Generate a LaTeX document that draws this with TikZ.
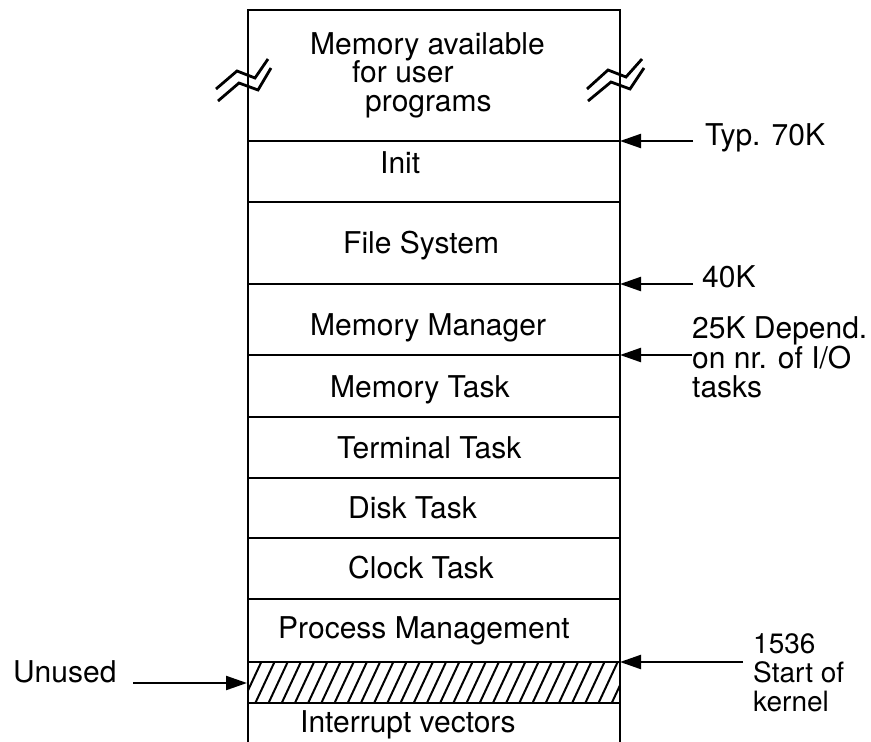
\documentclass[tikz,border=0pt]{standalone}
\usepackage{fontspec}
\setmainfont{TeX Gyre Heros}
\usetikzlibrary{arrows.meta}

\tikzset{
  wall/.style={line width=2.8pt, line cap=rect},
  divider/.style={line width=2.4pt},
  pointer/.style={line width=2.2pt, -{Triangle[length=21pt,width=14pt]}},
  lbl/.style={anchor=base west, inner sep=0pt, font=\fontsize{30}{34}\selectfont},
  sidelbl/.style={anchor=base west, inner sep=0pt, font=\fontsize{28}{32}\selectfont},
  breakmark/.style={line width=2.8pt, line join=miter},
  hatch/.style={line width=2pt},
}

\begin{document}
\begin{tikzpicture}[x=1pt, y=-1pt]
  % page frame
  \fill[white] (0,0) rectangle (871,742);
  \useasboundingbox (0,0) rectangle (871,742);

  % region boundaries on the walls
  \coordinate (b70)   at (620,141);
  \coordinate (b40)   at (620,284);
  \coordinate (b25)   at (620,355);
  \coordinate (bkern) at (620,662);
  \coordinate (bunus) at (247,683);

  % hatched (unused) band
  \begin{scope}
    \clip (248,662) rectangle (620,703);
    \foreach \i in {0,...,31} {
      \draw[hatch] ({228+13.2*\i},705) -- ({228+13.2*\i+21},660);
    }
  \end{scope}

  % outer walls of the memory column (open at the bottom)
  \draw[wall] (248,742) -- (248,10) -- (620,10) -- (620,742);

  % dividers between regions
  \foreach \yy in {141,202,284,355,417,478,538,599,662,703} {
    \draw[divider] (248,\yy) -- (620,\yy);
  }

  % break marks on both walls
  \draw[breakmark] (216,89) -- (237,71) -- (255,78) -- (268,59);
  \draw[breakmark] (218,101) -- (239,83) -- (258,90) -- (271,68);
  \draw[breakmark] (587,89) -- (608,70) -- (626,77) -- (642,59);
  \draw[breakmark] (588,101) -- (611,82) -- (630,89) -- (644,68);

  % region labels
  \node[lbl] (user1) at (310,54)  {Memory available};
  \node[lbl] (user2) at (352,82)  {for user};
  \node[lbl] (user3) at (365,111) {programs};
  \node[lbl] (init)  at (380,173) {Init};
  \node[lbl] (fs)    at (343,253) {File System};
  \node[lbl] (mm)    at (310,335) {Memory Manager};
  \node[lbl] (mt)    at (330,397) {Memory Task};
  \node[lbl] (tt)    at (337,458) {Terminal Task};
  \node[lbl] (dt)    at (348,518) {Disk Task};
  \node[lbl] (ct)    at (348,578) {Clock Task};
  \node[lbl] (pm)    at (278,638) {Process Management};
  \node[lbl] (iv)    at (300,732) {Interrupt vectors};

  % address labels
  \node[lbl] (l70)  at (705,145) {Typ. 70K};
  \node[lbl] (l40)  at (702,287) {40K};
  \node[lbl] (l25a) at (692,338) {25K Depend.};
  \node[lbl] (l25b) at (692,368) {on nr. of I/O};
  \node[lbl] (l25c) at (692,397) {tasks};
  \node[sidelbl] (lk1) at (753,653) {1536};
  \node[sidelbl] (lk2) at (753,682) {Start of};
  \node[sidelbl] (lk3) at (753,711) {kernel};
  \node[lbl] (lun)  at (13,682) {Unused};

  % arrow tails
  \coordinate (t70)   at (693,141);
  \coordinate (t40)   at (693,284);
  \coordinate (t25)   at (692,355);
  \coordinate (tkern) at (743,662);
  \coordinate (tunus) at (133,683);

  % pointers
  \draw[pointer] (t70) -- (b70);
  \draw[pointer] (t40) -- (b40);
  \draw[pointer] (t25) -- (b25);
  \draw[pointer] (tkern) -- (bkern);
  \draw[pointer] (tunus) -- (bunus);
\end{tikzpicture}
\end{document}
